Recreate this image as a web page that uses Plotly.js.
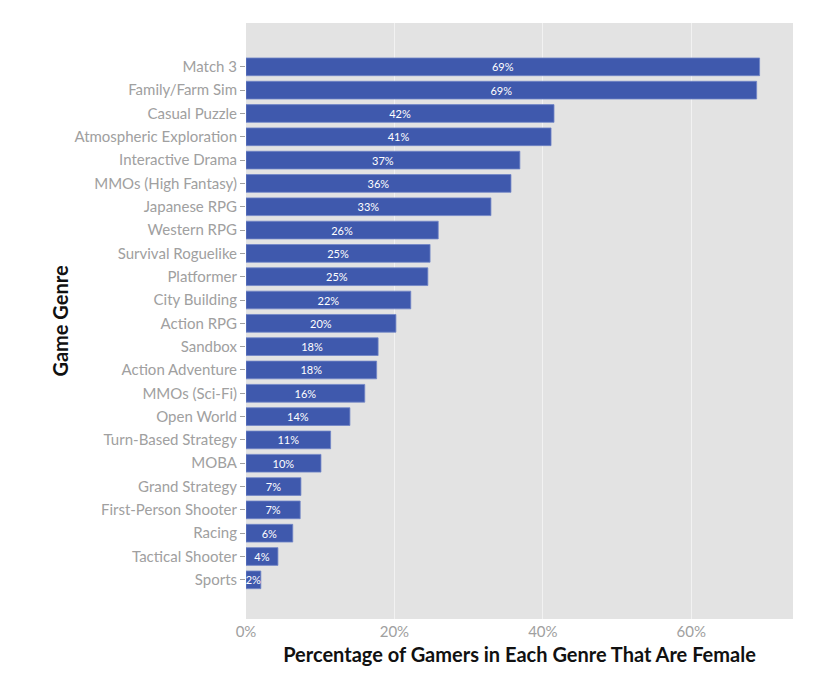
<!DOCTYPE html>
<html>
<head>
<meta charset="utf-8">
<script src="https://cdn.plot.ly/plotly-3.0.1.min.js"></script>
<style>
  html, body { margin: 0; padding: 0; background: #ffffff; }
  #chart { width: 825px; height: 681px; }
</style>
</head>
<body>
<div id="chart"></div>
<script>
// Share of female gamers per genre (percent)
const genres = [
  "Match 3", "Family/Farm Sim", "Casual Puzzle", "Atmospheric Exploration",
  "Interactive Drama", "MMOs (High Fantasy)", "Japanese RPG", "Western RPG",
  "Survival Roguelike", "Platformer", "City Building", "Action RPG",
  "Sandbox", "Action Adventure", "MMOs (Sci-Fi)", "Open World",
  "Turn-Based Strategy", "MOBA", "Grand Strategy", "First-Person Shooter",
  "Racing", "Tactical Shooter", "Sports"
];
const femaleShare = [
  69.2, 68.8, 41.5, 41.1,
  36.9, 35.7, 33.0, 25.9,
  24.8, 24.5, 22.2, 20.2,
  17.8, 17.6, 16.0, 14.0,
  11.4, 10.1, 7.4, 7.3,
  6.3, 4.3, 2.0
];
const xTickVals = [0, 20, 40, 60];
const xTickText = ["0%", "20%", "40%", "60%"];

const labels = femaleShare.map(v => Math.round(v) + "%");

const trace = {
  type: "bar",
  orientation: "h",
  y: genres,
  x: femaleShare,
  text: labels,
  textposition: "inside",
  insidetextanchor: "middle",
  constraintext: "none",
  textangle: 0,
  textfont: { family: "Lato, sans-serif", size: 11, color: "#ffffff" },
  marker: { color: "#3f59ad", line: { color: "#7185c6", width: 0.8 } },
  width: 0.76,
  hoverinfo: "none",
  cliponaxis: false
};

const layout = {
  width: 825,
  height: 681,
  margin: { l: 246, r: 32, t: 23, b: 62 },
  paper_bgcolor: "#ffffff",
  plot_bgcolor: "#e3e3e3",
  showlegend: false,
  font: { family: "Lato, sans-serif" },
  xaxis: {
    range: [0, 73.7],
    tickvals: xTickVals,
    ticktext: xTickText,
    showgrid: true,
    gridcolor: "#f2f2f2",
    gridwidth: 1,
    zeroline: false,
    showline: false,
    ticks: "",
    ticklabelstandoff: 2,
    tickfont: { family: "Lato, sans-serif", size: 15, color: "#a0a0a0" },
    title: {
      text: "<b>Percentage of Gamers in Each Genre That Are Female</b>",
      font: { family: "Lato, sans-serif", size: 20, color: "#111111" },
      standoff: 8
    },
    fixedrange: true
  },
  yaxis: {
    type: "category",
    categoryorder: "array",
    categoryarray: genres,
    range: [23.68, -1.88],
    showgrid: false,
    zeroline: false,
    showline: false,
    ticks: "outside",
    ticklen: 5,
    tickwidth: 1,
    tickcolor: "#a0a0a0",
    tickfont: { family: "Lato, sans-serif", size: 15, color: "#a0a0a0" },
    title: {
      text: "<b>Game Genre</b>",
      font: { family: "Lato, sans-serif", size: 20, color: "#111111" },
      standoff: 0
    },
    fixedrange: true
  }
};

Plotly.newPlot("chart", [trace], layout, { displayModeBar: false, staticPlot: true });
</script>
</body>
</html>
